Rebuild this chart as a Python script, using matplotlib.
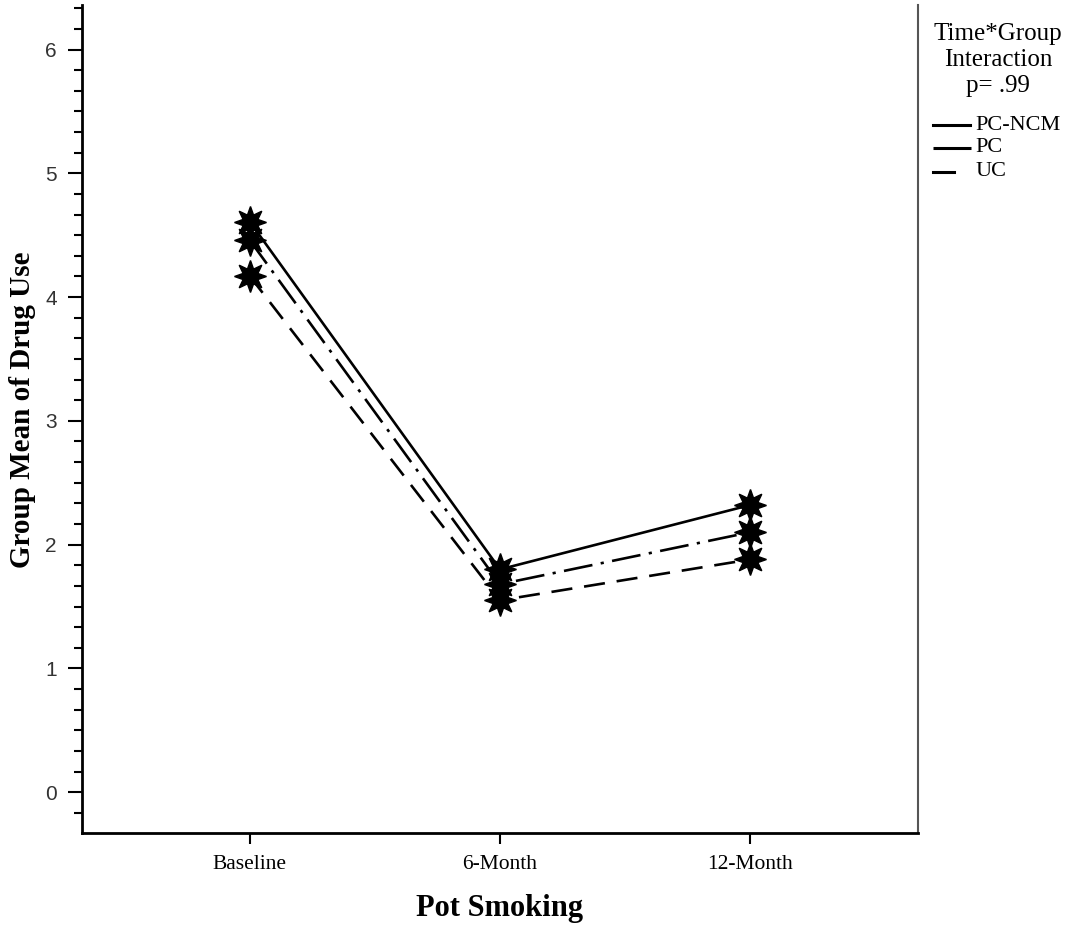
import numpy as np
import matplotlib.pyplot as plt
from matplotlib.lines import Line2D
from matplotlib.ticker import MultipleLocator

# values
time_points = ['Baseline', '6-Month', '12-Month']
groups = ['PC-NCM', 'PC', 'UC']
pc_ncm = [4.61, 1.80, 2.32]
pc = [4.46, 1.68, 2.10]
uc = [4.17, 1.55, 1.88]

serif = 'Liberation Serif'
sans = 'Liberation Sans'
W, H = 1077, 927

fig = plt.figure(figsize=(W / 100, H / 100), dpi=100)
ax = fig.add_axes([82 / W, 1 - 833 / H, (918 - 82) / W, (833 - 5) / H])

x = np.arange(len(time_points))
star = (8, 1, 0)
styles = ['-', (0, (11, 3.2, 1.2, 3.2)), (0, (8, 4.5))]
common = dict(color='black', lw=1.9, marker=star, markersize=23,
              markerfacecolor='black', markeredgecolor='black', markeredgewidth=1)
for vals, ls, name in zip([pc_ncm, pc, uc], styles, groups):
    ax.plot(x, vals, linestyle=ls, label=name, **common)

ax.set_xlim(-0.67, 2.67)
ax.set_ylim(-0.33, 6.36)
ax.set_xticks(x)
ax.set_xticklabels(time_points, fontfamily=serif, fontsize=15.5)
ax.set_yticks(range(0, 7))
ax.yaxis.set_minor_locator(MultipleLocator(1 / 6))
for lab in ax.get_yticklabels():
    lab.set_fontfamily(sans)
    lab.set_fontsize(15)
    lab.set_color('#333333')

ax.tick_params(axis='y', which='major', length=10, width=1.5, direction='out', pad=8)
ax.tick_params(axis='y', which='minor', length=6, width=1.5, direction='out')
ax.tick_params(axis='x', which='major', length=8, width=1.5, direction='out', pad=8)

ax.spines['top'].set_visible(False)
ax.spines['left'].set_linewidth(2)
ax.spines['bottom'].set_linewidth(2)
ax.spines['right'].set_linewidth(1.5)
ax.spines['right'].set_color('#555555')

ax.set_xlabel('Pot Smoking', fontfamily=serif, fontweight='bold', fontsize=22, labelpad=14)
fig.text(23 / W, 1 - 410 / H, 'Group Mean of Drug Use', rotation=90, ha='center', va='center',
         fontfamily=serif, fontweight='bold', fontsize=21)

# legend drawn by hand, as in the SPSS output
title_lines = ['Time*Group', 'Interaction', 'p= .99']
for i, t in enumerate(title_lines):
    fig.text(998 / W, 1 - (34 + 26 * i) / H, t, ha='center', va='center',
             fontfamily=serif, fontsize=18)
legend_y = [125, 148, 172]
legend_x = [(933, 970), (933, 971), (933, 954)]
legend_ls = ['-', (0, (13, 1.5, 1, 2)), '-']
for name, yy, (x0, x1), ls in zip(groups, legend_y, legend_x, legend_ls):
    fig.add_artist(Line2D([x0 / W, x1 / W], [1 - yy / H, 1 - yy / H],
                          transform=fig.transFigure, color='black', lw=2.2, linestyle=ls))
    fig.text(975 / W, 1 - yy / H, name, ha='left', va='center',
             fontfamily=serif, fontsize=16)

fig.savefig('out.png', dpi=100)
